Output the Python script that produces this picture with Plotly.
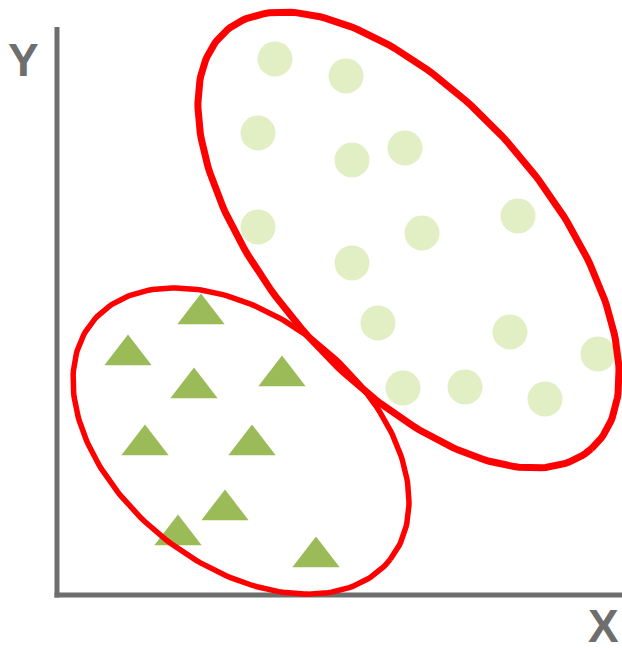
import numpy as np
import plotly.graph_objects as go

# 数据：坐标以 L 形坐标轴的交点为原点（单位≈像素）
circle_x = [218, 289, 201, 295, 348, 201, 365, 461, 295, 321, 453, 541, 346, 408, 488]
circle_y = [536, 519, 462, 435, 447, 368, 362, 379, 332, 272, 263, 241, 207, 208, 196]

triangle_x = [144, 71, 137, 225, 88, 195, 168, 121, 259]
triangle_y = [281, 240, 207, 219, 150, 150, 85, 60, 38]

# 椭圆：中心 x, 中心 y, 长半轴, 短半轴, 旋转角(度)
ellipse_cx = [351.5, 184]
ellipse_cy = [355, 154]
ellipse_a = [277.5, 190.5]
ellipse_b = [139, 124]
ellipse_angle = [-48.8, -38.4]

AXIS_X_END = 565
AXIS_Y_END = 568

COLORS = {
    "circle": "#E2EFC4",
    "triangle": "#9BBB59",
    "ellipse": "#FF0000",
    "axis": "#6E6E6E",
}


def ellipse_path(cx, cy, a, b, angle_deg, n=240):
    t = np.linspace(0, 2 * np.pi, n)
    th = np.radians(angle_deg)
    x = cx + a * np.cos(t) * np.cos(th) - b * np.sin(t) * np.sin(th)
    y = cy + a * np.cos(t) * np.sin(th) + b * np.sin(t) * np.cos(th)
    return x, y


fig = go.Figure()

fig.add_trace(go.Scatter(
    x=circle_x, y=circle_y, mode="markers",
    marker=dict(symbol="circle", size=35, color=COLORS["circle"],
                line=dict(width=0)),
    showlegend=False, hoverinfo="skip",
))
fig.add_trace(go.Scatter(
    x=triangle_x, y=triangle_y, mode="markers",
    marker=dict(symbol="triangle-up", size=41, color=COLORS["triangle"],
                line=dict(width=0)),
    showlegend=False, hoverinfo="skip",
))

widths = [7, 5.5]
for i in range(len(ellipse_cx)):
    ex, ey = ellipse_path(ellipse_cx[i], ellipse_cy[i], ellipse_a[i],
                          ellipse_b[i], ellipse_angle[i])
    fig.add_trace(go.Scatter(
        x=ex, y=ey, mode="lines",
        line=dict(color=COLORS["ellipse"], width=widths[i]),
        showlegend=False, hoverinfo="skip",
    ))

# L 形坐标轴
fig.add_shape(type="line", xref="x", yref="y", x0=0, y0=-2.5, x1=0, y1=AXIS_Y_END,
              line=dict(color=COLORS["axis"], width=5), layer="below")
fig.add_shape(type="line", xref="x", yref="y", x0=-2.5, y0=0, x1=AXIS_X_END, y1=0,
              line=dict(color=COLORS["axis"], width=5), layer="below")

label_font = dict(family="Liberation Sans, Arial, sans-serif", size=46,
                  color=COLORS["axis"])
fig.add_annotation(x=-33.5, y=535, xref="x", yref="y", text="<b>Y</b>",
                   showarrow=False, font=label_font,
                   xanchor="center", yanchor="middle")
fig.add_annotation(x=546, y=-31, xref="x", yref="y", text="<b>X</b>",
                   showarrow=False, font=label_font,
                   xanchor="center", yanchor="middle")

fig.update_layout(
    width=622, height=648,
    margin=dict(l=0, r=0, t=0, b=0),
    paper_bgcolor="white", plot_bgcolor="white",
    xaxis=dict(range=[-57, 565], visible=False, fixedrange=True),
    yaxis=dict(range=[-53, 595], visible=False, fixedrange=True),
)

# 去掉页面 body 的默认边距，使图幅正好铺满窗口
fig.write_html(
    "out.html",
    config={"displayModeBar": False},
    post_script="document.body.style.margin='0';"
                "document.body.style.overflow='hidden';",
)
